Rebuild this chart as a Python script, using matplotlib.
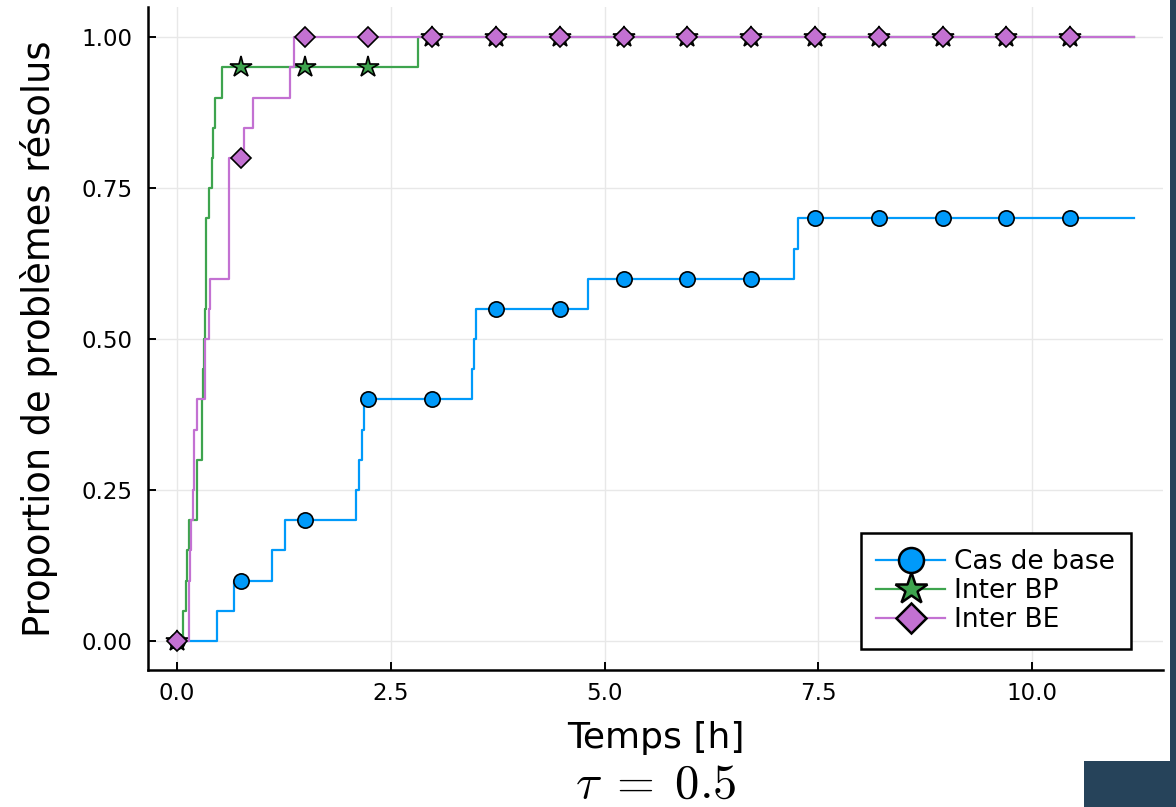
import numpy as np
import matplotlib
matplotlib.use("Agg")
import matplotlib.pyplot as plt
from matplotlib.patches import Rectangle
from matplotlib.lines import Line2D

# step data (time [h], proportion solved after the step)
t_base = [0.470, 0.665, 1.105, 1.257, 2.098, 2.128, 2.159, 2.189, 3.449, 3.470,
          3.499, 4.811, 7.220, 7.260]
p_base = [0.05, 0.10, 0.15, 0.20, 0.25, 0.30, 0.35, 0.40, 0.45, 0.50,
          0.55, 0.60, 0.65, 0.70]

t_bp = [0.074, 0.100, 0.112, 0.143, 0.230, 0.233, 0.288, 0.294, 0.303, 0.314,
        0.324, 0.334, 0.339, 0.344, 0.375, 0.405, 0.425, 0.443, 0.520, 2.815]
p_bp = [0.05, 0.10, 0.15, 0.20, 0.25, 0.30, 0.35, 0.40, 0.45, 0.50,
        0.55, 0.60, 0.65, 0.70, 0.75, 0.80, 0.85, 0.90, 0.95, 1.00]

t_be = [0.137, 0.143, 0.153, 0.167, 0.187, 0.193, 0.203, 0.237, 0.325, 0.330,
        0.375, 0.385, 0.607, 0.607, 0.607, 0.607, 0.788, 0.887, 1.322, 1.372]
p_be = [0.05, 0.10, 0.15, 0.20, 0.25, 0.30, 0.35, 0.40, 0.45, 0.50,
        0.55, 0.60, 0.65, 0.70, 0.75, 0.80, 0.85, 0.90, 0.95, 1.00]

t_end = 11.19
marker_t = [0.0, 0.746, 1.492, 2.238, 2.984, 3.730, 4.476, 5.222, 5.968, 6.714,
            7.460, 8.206, 8.952, 9.698, 10.444]

labels = ["Cas de base", "Inter BP", "Inter BE"]
colors = ["#009AFA", "#3EA44E", "#C371D2"]
markers = ["o", "*", "D"]
msizes = [11, 16, 10]
leg_msizes = [18, 24, 15]

x_ticks = [0.0, 2.5, 5.0, 7.5, 10.0]
y_ticks = [0.0, 0.25, 0.5, 0.75, 1.0]

plt.rcParams['font.family'] = ['DejaVu Sans']
plt.rcParams['mathtext.fontset'] = 'cm'

fig = plt.figure(figsize=(11.76, 8.07), dpi=100)
ax = fig.add_axes([148 / 1176, 137 / 807, 1015 / 1176, 663 / 807])

handles = []
series = [(t_base, p_base), (t_bp, p_bp), (t_be, p_be)]
for i, (t, p) in enumerate(series):
    t = np.array(t)
    p = np.array(p)
    xs = np.concatenate([[0.0], t, [t_end]])
    ys = np.concatenate([[0.0], p, [p[-1]]])
    ax.plot(xs, ys, drawstyle='steps-post', color=colors[i], lw=1.6,
            zorder=3 + 2 * i)
    vals = np.concatenate([[0.0], p])
    my = vals[np.searchsorted(t, marker_t, side='right')]
    ax.plot(marker_t, my, linestyle='none', marker=markers[i],
            ms=msizes[i], mfc=colors[i], mec='black', mew=1.2,
            zorder=4 + 2 * i)
    handles.append(Line2D([], [], color=colors[i], lw=1.6, marker=markers[i],
                          ms=leg_msizes[i], mfc=colors[i], mec='black', mew=1.8))

ax.set_xlim(-0.34, 11.53)
ax.set_ylim(-0.048, 1.05)
ax.set_xticks(x_ticks)
ax.set_xticklabels(["0.0", "2.5", "5.0", "7.5", "10.0"])
ax.set_yticks(y_ticks)
ax.set_yticklabels(["0.00", "0.25", "0.50", "0.75", "1.00"])
ax.grid(True, color='#e8e8e8', lw=1.0, zorder=0)
ax.set_axisbelow(True)

for s in ['top', 'right']:
    ax.spines[s].set_visible(False)
for s in ['left', 'bottom']:
    ax.spines[s].set_linewidth(1.8)
    ax.spines[s].set_color('black')

ax.tick_params(axis='both', direction='in', length=6, width=1.4,
               labelsize=16.5, colors='black')
ax.tick_params(axis='x', pad=9)
ax.tick_params(axis='y', pad=11)

ax.set_xlabel("Temps [h]", fontsize=26, labelpad=11)
ax.set_ylabel("Proportion de problèmes résolus", fontsize=26.5, labelpad=17)

leg = ax.legend(handles, labels, loc='lower right',
                bbox_to_anchor=(0.9685, 0.0317), borderaxespad=0,
                fontsize=19, frameon=True, fancybox=False, edgecolor='black',
                framealpha=1, handlelength=2.6, handletextpad=0.35,
                labelspacing=0.12, borderpad=0.6, numpoints=1)
leg.get_frame().set_linewidth(1.8)
leg.set_zorder(20)

fig.text(656 / 1176, 1 - 784 / 807, r"$\tau\;=\;0.5$", fontsize=35,
         ha='center', va='center')

dark = '#26435A'
fig.add_artist(Rectangle((1170 / 1176, 0), 6 / 1176, 1, transform=fig.transFigure,
                         color=dark, lw=0))
fig.add_artist(Rectangle((1084 / 1176, 0), 92 / 1176, 46 / 807,
                         transform=fig.transFigure, color=dark, lw=0))

fig.savefig("out.png", dpi=100)
